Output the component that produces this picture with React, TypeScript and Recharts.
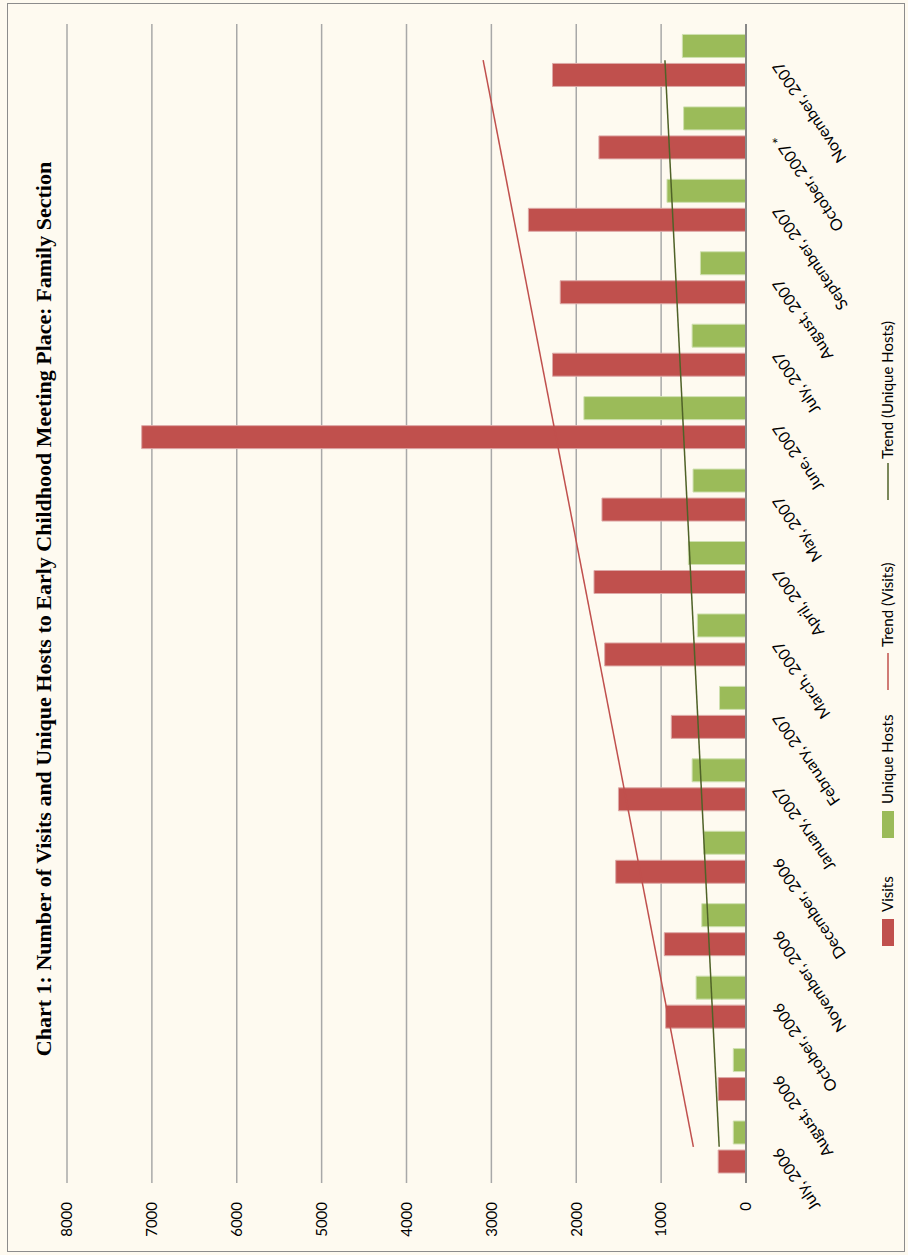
import { ComposedChart, Bar, Line, XAxis, YAxis, CartesianGrid } from "recharts";

const months = [
  "July, 2006",
  "August, 2006",
  "October, 2006",
  "November, 2006",
  "December, 2006",
  "January, 2007",
  "February, 2007",
  "March, 2007",
  "April, 2007",
  "May, 2007",
  "June, 2007",
  "July, 2007",
  "August, 2007",
  "September, 2007",
  "October, 2007 *",
  "November, 2007",
];

const visits = [328, 328, 947, 963, 1535, 1503, 880, 1665, 1791, 1697, 7120, 2280, 2189, 2564, 1733, 2280];
const uniqueHosts = [150, 150, 588, 521, 497, 635, 312, 573, 679, 624, 1910, 635, 537, 931, 735, 750];

// trend lines: only the two end points
const trendVisits = [620, null, null, null, null, null, null, null, null, null, null, null, null, null, null, 3097];
const trendHosts = [316, null, null, null, null, null, null, null, null, null, null, null, null, null, null, 955];

const valueTicks = [0, 1000, 2000, 3000, 4000, 5000, 6000, 7000, 8000];

const RED = "#C0504D";
const GREEN = "#9BBB59";
const DARK_GREEN = "#4F6228";
const BG = "#FEFAF0";
const FONT = "Lato, 'Liberation Sans', sans-serif";

const rows = months.map((m, i) => ({
  month: m,
  visits: visits[i],
  hosts: uniqueHosts[i],
  trendVisits: trendVisits[i],
  trendHosts: trendHosts[i],
}));

function MonthTick({ x, y, payload }: any) {
  const ty = y + 35;
  return (
    <text
      x={x}
      y={ty}
      transform={`rotate(-34, ${x}, ${ty})`}
      textAnchor="end"
      fontFamily={FONT}
      fontSize={16}
      fill="#000"
    >
      {payload.value}
    </text>
  );
}

function LegendBox() {
  const y = 888;
  return (
    <svg width={1255} height={908} style={{ position: "absolute", left: 0, top: 0 }}>
      <text
        x={646}
        y={51}
        textAnchor="middle"
        fontFamily="'Liberation Serif', 'Times New Roman', serif"
        fontWeight="bold"
        fontSize={22}
        fill="#000"
      >
        Chart 1: Number of Visits and Unique Hosts to Early Childhood Meeting Place: Family Section
      </text>
      <g fontFamily={FONT} fontSize={15} fill="#000">
        <rect x={309} y={y - 6} width={27} height={12} fill={RED} />
        <text x={343} y={y + 5}>Visits</text>
        <rect x={417} y={y - 6} width={27} height={12} fill={GREEN} />
        <text x={451} y={y + 5}>Unique Hosts</text>
        <line x1={565} x2={602} y1={y} y2={y} stroke={RED} strokeWidth={1.5} />
        <text x={608} y={y + 5}>Trend (Visits)</text>
        <line x1={755} x2={792} y1={y} y2={y} stroke={DARK_GREEN} strokeWidth={1.5} />
        <text x={796} y={y + 5}>Trend (Unique Hosts)</text>
      </g>
    </svg>
  );
}

export default function App() {
  return (
    <div
      style={{
        position: "absolute",
        left: 0,
        top: 0,
        width: 908,
        height: 1255,
        background: BG,
        overflow: "hidden",
      }}
    >
      <div
        style={{
          position: "absolute",
          left: 0,
          top: 0,
          width: 1255,
          height: 908,
          transformOrigin: "0 0",
          transform: "translateY(1255px) rotate(-90deg)",
        }}
      >
        <div
          style={{
            position: "absolute",
            left: 3,
            top: 7,
            width: 1249,
            height: 898,
            border: "1.5px solid #8c8c8c",
            boxSizing: "border-box",
          }}
        />
        <div style={{ position: "absolute", left: 0, top: 0 }}>
          <ComposedChart
            width={1255}
            height={908}
            data={rows}
            margin={{ top: 67, right: 24, bottom: 0, left: 0 }}
            barSize={23}
            barGap={6}
          >
            <CartesianGrid horizontal vertical={false} stroke="#A8A8A8" strokeWidth={1.5} />
            <XAxis
              dataKey="month"
              height={162}
              interval={0}
              tickLine={false}
              tickSize={0}
              tickMargin={0}
              axisLine={{ stroke: "#878787", strokeWidth: 2 }}
              tick={<MonthTick />}
            />
            <YAxis
              width={72}
              domain={[0, 8000]}
              ticks={valueTicks}
              axisLine={false}
              tickLine={false}
              tickSize={0}
              tickMargin={19}
              tick={{ fontFamily: FONT, fontSize: 15, fill: "#000" }}
            />
            <Bar dataKey="visits" fill={RED} stroke="#DDA9A7" strokeWidth={1} isAnimationActive={false} />
            <Bar dataKey="hosts" fill={GREEN} stroke="#CFE0B0" strokeWidth={1} isAnimationActive={false} />
            <Line
              type="linear"
              dataKey="trendVisits"
              connectNulls
              dot={false}
              activeDot={false}
              stroke={RED}
              strokeWidth={1.5}
              isAnimationActive={false}
            />
            <Line
              type="linear"
              dataKey="trendHosts"
              connectNulls
              dot={false}
              activeDot={false}
              stroke={DARK_GREEN}
              strokeWidth={1.5}
              isAnimationActive={false}
            />
          </ComposedChart>
        </div>
        <LegendBox />
      </div>
    </div>
  );
}
